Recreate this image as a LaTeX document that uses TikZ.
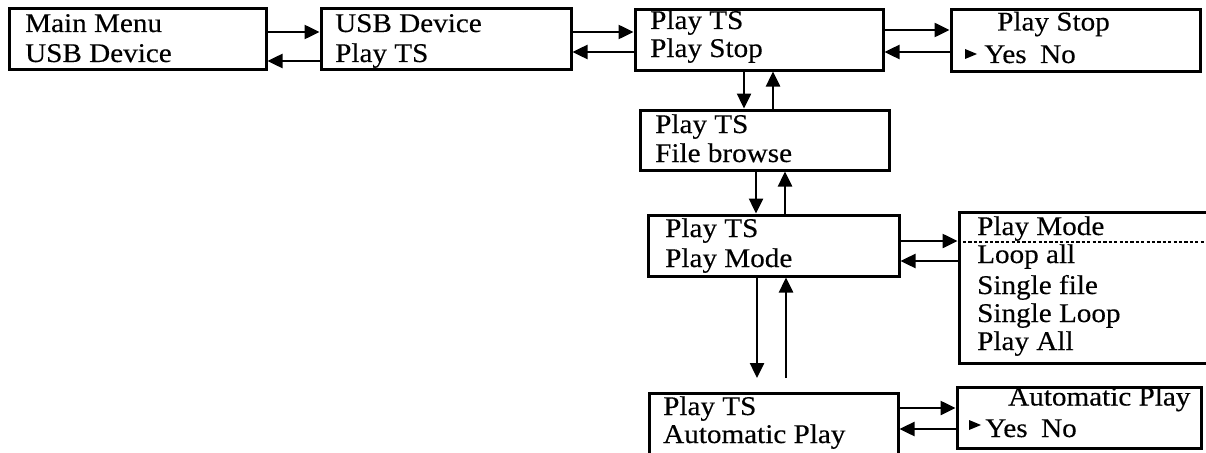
\documentclass[tikz,border=0pt]{standalone}
\usepackage{fontspec}
\setmainfont{Liberation Serif}[FakeStretch=1.08,FakeBold=0.3]
\usetikzlibrary{arrows.meta}
\tikzset{
  box/.style={draw, line width=3pt, rectangle, inner sep=0pt},
  txt/.style={anchor=base west, inner sep=0pt, font=\fontsize{27}{30}\selectfont},
  arr/.style={line width=2.5pt, -{Triangle[length=15pt,width=14pt]}},
  dotline/.style={line width=2pt, dash pattern=on 3.2pt off 2.2pt},
  pointer/.style={fill=black}
}
\begin{document}
\begin{tikzpicture}[x=1pt,y=-1pt]
\clip (0,0) rectangle (1206,452);
% boxes
\node[box, minimum width=257pt, minimum height=60pt] (b1) at (137.5,39) {};
\node[box, minimum width=250pt, minimum height=60pt] (b2) at (446,39) {};
\node[box, minimum width=248pt, minimum height=60pt] (b3) at (759,40) {};
\node[box, minimum width=249pt, minimum height=61pt] (b4) at (1075.5,40.5) {};
\node[box, minimum width=249pt, minimum height=60pt] (b5) at (764.5,140) {};
\node[box, minimum width=251pt, minimum height=61pt] (b6) at (773.5,245.5) {};
\node[box, minimum width=249pt, minimum height=90pt] (b7) at (773.5,438) {};
\node[box, minimum width=281pt, minimum height=151pt] (b8) at (1099.5,287.5) {};
\node[box, minimum width=244pt, minimum height=61pt] (b9) at (1079,417.5) {};
% texts
\node[txt] (t1a) at (25,32) {Main Menu};
\node[txt] (t1b) at (25,62) {USB Device};
\node[txt] (t2a) at (335,32) {USB Device};
\node[txt] (t2b) at (335,62) {Play TS};
\node[txt] (t3a) at (650,29) {Play TS};
\node[txt] (t3b) at (650,57) {Play Stop};
\node[txt] (t4a) at (997,30.5) {Play Stop};
\node[txt] (t4b) at (984,63) {Yes\enspace No};
\node[txt] (t5a) at (655,133) {Play TS};
\node[txt] (t5b) at (655,162) {File browse};
\node[txt] (t6a) at (665,237) {Play TS};
\node[txt] (t6b) at (665,267) {Play Mode};
\node[txt] (t7a) at (663,415) {Play TS};
\node[txt] (t7b) at (663,443) {Automatic Play};
\node[txt] (t8a) at (977,235) {Play Mode};
\node[txt] (t8b) at (977,263) {Loop all};
\node[txt] (t8c) at (977,294) {Single file};
\node[txt] (t8d) at (977,322) {Single Loop};
\node[txt] (t8e) at (977,350) {Play All};
\node[txt] (t9a) at (1008,405.5) {Automatic Play};
\node[txt] (t9b) at (985,437) {Yes\enspace No};
% pointers
\fill[pointer] (965,49) -- (977,54) -- (965,59) -- cycle;
\fill[pointer] (969,420) -- (981,425) -- (969,430) -- cycle;
% dotted separator
\draw[dotline] (b8.west |- 0,242) -- (1206,242);
% horizontal connectors
\draw[arr] (b1.east |- 0,32) -- (b2.west |- 0,32);
\draw[arr] (b2.west |- 0,61) -- (b1.east |- 0,61);
\draw[arr] (b2.east |- 0,32) -- (b3.west |- 0,32);
\draw[arr] (b3.west |- 0,52) -- (b2.east |- 0,52);
\draw[arr] (b3.east |- 0,30) -- (b4.west |- 0,30);
\draw[arr] (b4.west |- 0,52) -- (b3.east |- 0,52);
\draw[arr] (b6.east |- 0,241) -- (b8.west |- 0,241);
\draw[arr] (b8.west |- 0,261) -- (b6.east |- 0,261);
\draw[arr] (b7.east |- 0,408) -- (b9.west |- 0,408);
\draw[arr] (b9.west |- 0,429) -- (b7.east |- 0,429);
% vertical connectors
\draw[arr] (b3.south -| 744,0) -- (b5.north -| 744,0);
\draw[arr] (b5.north -| 773,0) -- (b3.south -| 773,0);
\draw[arr] (b5.south -| 756,0) -- (b6.north -| 756,0);
\draw[arr] (b6.north -| 785,0) -- (b5.south -| 785,0);
\coordinate (g1) at (757,378);
\coordinate (g2) at (786,378);
\draw[arr] (b6.south -| g1) -- (g1);
\draw[arr] (g2) -- (b6.south -| g2);
\end{tikzpicture}
\end{document}
